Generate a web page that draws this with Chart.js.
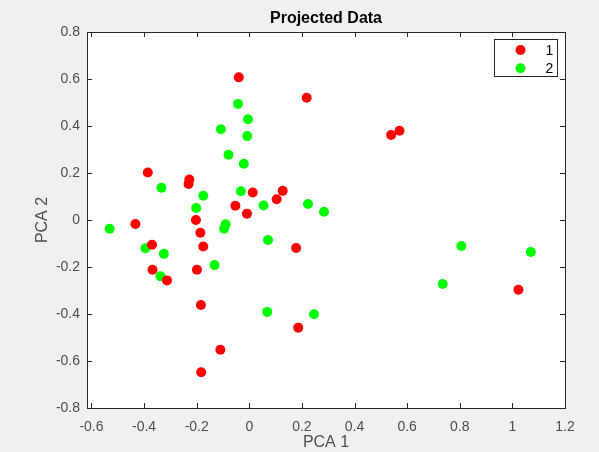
<!DOCTYPE html>
<html>
<head>
<meta charset="utf-8">
<script src="https://cdn.jsdelivr.net/npm/chart.js@4.4.1/dist/chart.umd.min.js"></script>
<style>
	html, body { margin : 0; padding : 0; background : #f0f0f0; }
	#chart-canvas { display : block; }
</style>
</head>
<body>
<canvas id="chart-canvas" width="599" height="452"></canvas>
<script>
// values
const class1X = [-0.040, 0.218, -0.386, -0.228, -0.231, 0.013, 0.127, 0.104, -0.053, -0.009, -0.203, -0.433, -0.186,
	-0.370, -0.175, 0.178, -0.368, -0.199, -0.313, -0.184, 0.186, -0.110, -0.183, 0.539, 0.571, 1.023];
const class1Y = [0.607, 0.520, 0.202, 0.172, 0.153, 0.117, 0.124, 0.088, 0.061, 0.027, 0.000, -0.017, -0.054,
	-0.105, -0.113, -0.119, -0.212, -0.212, -0.257, -0.362, -0.458, -0.552, -0.648, 0.362, 0.380, -0.297];
const class2X = [-0.043, -0.005, -0.108, -0.008, -0.079, -0.021, -0.334, -0.175, -0.032, 0.054, 0.223, 0.284, -0.202,
	-0.531, -0.395, -0.325, -0.338, -0.132, -0.090, -0.096, 0.071, 0.068, 0.246, 0.806, 1.070, 0.735];
const class2Y = [0.494, 0.429, 0.386, 0.357, 0.278, 0.239, 0.137, 0.103, 0.122, 0.062, 0.068, 0.035, 0.051,
	-0.037, -0.120, -0.144, -0.239, -0.192, -0.018, -0.037, -0.085, -0.391, -0.401, -0.111, -0.136, -0.272];
const seriesNames = ["1", "2"];
const xTicks = [-0.6, -0.4, -0.2, 0, 0.2, 0.4, 0.6, 0.8, 1, 1.2];
const yTicks = [-0.8, -0.6, -0.4, -0.2, 0, 0.2, 0.4, 0.6, 0.8];

const FONT = "'Liberation Sans', Arial, Helvetica, sans-serif";
const AXIS_COLOR = "#262626";

function toPoints(xs, ys)
{
	let pts = [];
	for(let i = 0; i < xs.length; i++)
		pts.push({ x : xs[i], y : ys[i] });
	return pts;
}

// white plot area, box with inward ticks and the legend, matlab style
const matlabAxes =
{
	id : "matlabAxes",
	beforeDatasetsDraw(chart)
	{
		const { ctx, chartArea : a } = chart;
		ctx.save();
		ctx.fillStyle = "#ffffff";
		ctx.fillRect(a.left, a.top, a.right - a.left, a.bottom - a.top);
		ctx.restore();
	},
	afterDatasetsDraw(chart)
	{
		const { ctx, chartArea : a, scales } = chart;
		const tl = 5;
		ctx.save();
		ctx.strokeStyle = AXIS_COLOR;
		ctx.lineWidth = 1;
		ctx.beginPath();
		for(let v of xTicks)
		{
			let px = Math.round(scales.x.getPixelForValue(v)) + 0.5;
			ctx.moveTo(px, a.bottom); ctx.lineTo(px, a.bottom - tl);
			ctx.moveTo(px, a.top); ctx.lineTo(px, a.top + tl);
		}
		for(let v of yTicks)
		{
			let py = Math.round(scales.y.getPixelForValue(v)) + 0.5;
			ctx.moveTo(a.left, py); ctx.lineTo(a.left + tl, py);
			ctx.moveTo(a.right, py); ctx.lineTo(a.right - tl, py);
		}
		ctx.stroke();
		ctx.strokeRect(Math.round(a.left) + 0.5, Math.round(a.top) + 0.5,
			Math.round(a.right - a.left), Math.round(a.bottom - a.top));

		// legend box in the top right corner
		const lw = 63, lh = 37;
		const lx = Math.round(a.right) - 71 + 0.5, ly = Math.round(a.top) + 7 + 0.5;
		ctx.fillStyle = "#ffffff";
		ctx.fillRect(lx, ly, lw, lh);
		ctx.strokeStyle = AXIS_COLOR;
		ctx.strokeRect(lx, ly, lw, lh);
		ctx.font = "14px " + FONT;
		ctx.textAlign = "center";
		ctx.textBaseline = "middle";
		chart.data.datasets.forEach((ds, i) =>
		{
			let cy = ly + 10.5 + i * 18.3;
			ctx.beginPath();
			ctx.fillStyle = ds.backgroundColor;
			ctx.arc(lx + 26, cy, 5, 0, Math.PI * 2);
			ctx.fill();
			ctx.fillStyle = "#000000";
			ctx.fillText(ds.label, lx + 55, cy + 1);
		});
		ctx.restore();
	}
};

const chart = new Chart(document.getElementById("chart-canvas").getContext("2d"),
{
	type : "scatter",
	data :
	{
		datasets :
		[{
			label : seriesNames[0],
			data : toPoints(class1X, class1Y),
			backgroundColor : "#ff0000",
			borderWidth : 0,
			pointRadius : 5
		},
		{
			label : seriesNames[1],
			data : toPoints(class2X, class2Y),
			backgroundColor : "#00ff00",
			borderWidth : 0,
			pointRadius : 5
		}]
	},
	options :
	{
		responsive : false,
		animation : false,
		layout : { padding : { top : 0, right : 34, left : 0, bottom : 0 } },
		plugins :
		{
			legend : { display : false },
			tooltip : { enabled : false },
			title :
			{
				display : true,
				fullSize : false,
				text : "Projected Data",
				color : "#000000",
				font : { family : FONT, size : 16, weight : "bold", lineHeight : 1.2 },
				padding : { top : 8.5, bottom : 4.3 }
			}
		},
		scales :
		{
			x :
			{
				type : "linear",
				min : -0.617,
				max : 1.2,
				grid : { display : false, drawTicks : false },
				border : { display : false },
				afterBuildTicks : (scale) => { scale.ticks = xTicks.map(v => ({ value : v })); },
				afterFit : (scale) => { scale.height = 44; },
				ticks :
				{
					color : "#4d4d4d",
					padding : 11,
					maxRotation : 0,
					autoSkip : false,
					font : { family : FONT, size : 14 },
					callback : (v) => String(v)
				},
				title :
				{
					display : true,
					text : "PCA 1",
					color : "#4d4d4d",
					font : { family : FONT, size : 16 },
					padding : { top : 0, bottom : 0 }
				}
			},
			y :
			{
				type : "linear",
				min : -0.8,
				max : 0.8,
				grid : { display : false, drawTicks : false },
				border : { display : false },
				afterBuildTicks : (scale) => { scale.ticks = yTicks.map(v => ({ value : v })); },
				afterFit : (scale) => { scale.width = 87; },
				ticks :
				{
					color : "#4d4d4d",
					padding : 7,
					autoSkip : false,
					font : { family : FONT, size : 14 },
					callback : (v) => String(v)
				},
				title :
				{
					display : true,
					text : "PCA 2",
					color : "#4d4d4d",
					font : { family : FONT, size : 16 },
					padding : { top : 33, bottom : 0 }
				}
			}
		}
	},
	plugins : [matlabAxes]
});
</script>
</body>
</html>
